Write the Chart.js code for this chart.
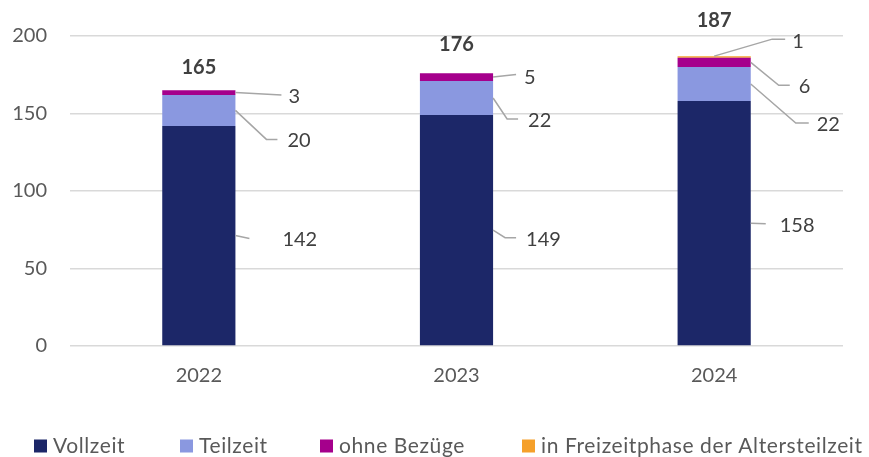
<!DOCTYPE html>
<html>
<head>
<meta charset="utf-8">
<script src="https://cdn.jsdelivr.net/npm/chart.js@4"></script>
<style>
  html, body { margin: 0; padding: 0; background: #ffffff; }
  #wrap { width: 869px; height: 457px; }
</style>
</head>
<body>
<div id="wrap"><canvas id="c" width="869" height="457"></canvas></div>
<script>
// ---- Data ----
const categories = ['2022', '2023', '2024'];
const seriesNames = ['Vollzeit', 'Teilzeit', 'ohne Bezüge', 'in Freizeitphase der Altersteilzeit'];
const vollzeit = [142, 149, 158];
const teilzeit = [20, 22, 22];
const ohneBezuege = [3, 5, 6];
const freizeitphase = [0, 0, 1];
const totals = [165, 176, 187];
const yTicks = [0, 50, 100, 150, 200];

// ---- Styles ----
const colors = ['#1c2768', '#8a98e0', '#a5008c', '#f5a02a'];
const FONT = 'Lato';
const textColor = '#595959';
const labelColor = '#404040';
const leaderColor = '#a6a6a6';

// leader-line label layout per dataset / category (offsets relative to segment anchor)
const leaderLayout = [
  [ {from:'right', path:[[14,3]], label:[47,4]},
    {from:'right', path:[[12,7.5],[23,7.5]], label:[33,9]},
    {from:'right', path:[[15,0.5]], label:[29,2.5]} ],
  [ {from:'right', path:[[31,29],[42,29]], label:[52,30]},
    {from:'right', path:[[14,21],[25,21]], label:[35,23]},
    {from:'right', path:[[45,39],[58,39]], label:[66,40]} ],
  [ {from:'right', path:[[46,2.5]], label:[53,4]},
    {from:'right', path:[[23,-2.5]], label:[31,0]},
    {from:'right', path:[[28,23],[39,23]], label:[48,24]} ],
  [ null, null,
    {from:'top', path:[[58,-17],[71,-17]], label:[78,-15]} ]
];
const totalOffsets = [23, 29, 36];
// legend layout (box left positions)
const legendBoxX = [34, 180, 320, 522];

const labelPlugin = {
  id: 'labelPlugin',
  afterDatasetsDraw(chart) {
    const ctx = chart.ctx;
    ctx.save();
    chart.data.datasets.forEach((ds, i) => {
      const meta = chart.getDatasetMeta(i);
      meta.data.forEach((el, j) => {
        const v = ds.data[j];
        const lay = leaderLayout[i][j];
        if (!v || !lay) return;
        const p = el.getProps(['x', 'y', 'base', 'width'], true);
        let sx, sy;
        if (lay.from === 'top') { sx = p.x; sy = Math.min(p.y, p.base); }
        else { sx = p.x + p.width / 2; sy = (p.y + p.base) / 2; }
        ctx.strokeStyle = leaderColor;
        ctx.lineWidth = 1.5;
        ctx.beginPath();
        ctx.moveTo(sx, sy);
        lay.path.forEach(pt => ctx.lineTo(sx + pt[0], sy + pt[1]));
        ctx.stroke();
        ctx.fillStyle = labelColor;
        ctx.font = '20px ' + FONT;
        ctx.textAlign = 'left';
        ctx.textBaseline = 'middle';
        ctx.fillText(String(v), sx + lay.label[0], sy + lay.label[1]);
      });
    });
    // totals
    const lastMeta = chart.getDatasetMeta(chart.data.datasets.length - 1);
    categories.forEach((c, j) => {
      const el = lastMeta.data[j];
      const p = el.getProps(['x', 'y'], true);
      ctx.fillStyle = labelColor;
      ctx.font = 'bold 20px ' + FONT;
      ctx.textAlign = 'center';
      ctx.textBaseline = 'middle';
      ctx.fillText(String(totals[j]), p.x, p.y - totalOffsets[j]);
    });
    // legend
    ctx.font = '21px ' + FONT;
    try { ctx.letterSpacing = '0.6px'; } catch (e) {}
    const box = 13, textGap = 6;
    const ly = 446;
    seriesNames.forEach((n, k) => {
      const x = legendBoxX[k];
      ctx.fillStyle = colors[k];
      ctx.fillRect(x, ly - box / 2, box, box);
      ctx.fillStyle = textColor;
      ctx.textAlign = 'left';
      ctx.textBaseline = 'middle';
      ctx.fillText(n, x + box + textGap, ly);
    });
    ctx.restore();
  }
};

Chart.defaults.font.family = FONT;
Chart.defaults.font.size = 20;
Chart.defaults.color = textColor;

const seriesData = [vollzeit, teilzeit, ohneBezuege, freizeitphase];

new Chart(document.getElementById('c'), {
  type: 'bar',
  data: {
    labels: categories,
    datasets: seriesNames.map((n, k) => ({
      label: n,
      data: seriesData[k],
      backgroundColor: colors[k],
      borderWidth: 0,
      barPercentage: 0.284,
      categoryPercentage: 1.0
    }))
  },
  options: {
    responsive: false,
    animation: false,
    devicePixelRatio: 1,
    layout: { padding: { top: 36, right: 26, left: 0, bottom: 0 } },
    plugins: { legend: { display: false }, tooltip: { enabled: false } },
    scales: {
      x: {
        stacked: true,
        grid: { display: false, drawTicks: false },
        border: { display: false },
        ticks: { padding: 18, color: textColor, font: { size: 20 } },
        afterFit(scale) { scale.height = 111; }
      },
      y: {
        stacked: true,
        min: 0,
        max: 200,
        afterBuildTicks(scale) { scale.ticks = yTicks.map(v => ({ value: v })); },
        grid: { color: '#d9d9d9', lineWidth: 1.5, drawTicks: false },
        border: { display: false },
        ticks: { padding: 23, color: textColor, font: { size: 20 } },
        afterFit(scale) { scale.width = 70; }
      }
    }
  },
  plugins: [labelPlugin]
});
</script>
</body>
</html>
